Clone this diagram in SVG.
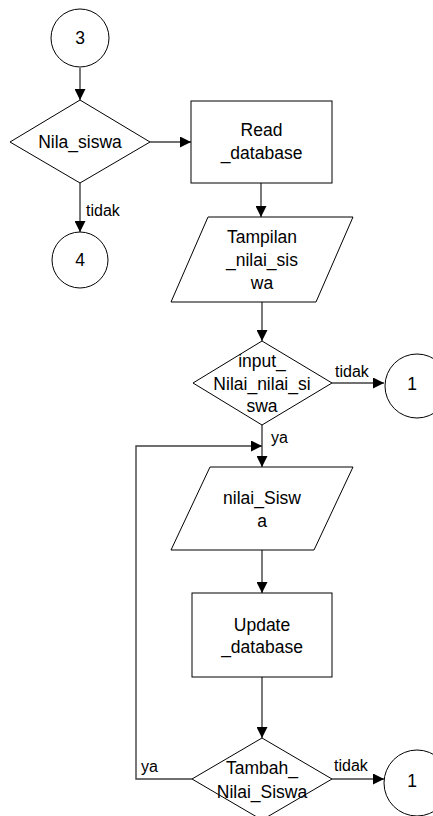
<svg xmlns="http://www.w3.org/2000/svg" width="433" height="816" viewBox="0 0 433 816">
  <defs>
    <marker id="arrow" viewBox="0 0 10 10" refX="10" refY="5" markerWidth="11" markerHeight="11" markerUnits="userSpaceOnUse" orient="auto">
      <path d="M0,0 L10,5 L0,10 z" fill="#000"/>
    </marker>
  </defs>
  <style>
    .shape { fill: #fff; stroke: #000; stroke-width: 1; }
    .link { fill: none; stroke: #404040; stroke-width: 1.4; }
    .arr { marker-end: url(#arrow); }
    text { font-family: "Liberation Sans", Arial, sans-serif; fill: #000; }
    .t { font-size: 17.5px; text-anchor: middle; dominant-baseline: central; }
    .lbl { font-size: 16px; dominant-baseline: central; }
  </style>
  <rect width="433" height="816" fill="#fff"/>

  <!-- connectors -->
  <g id="connectors">
    <line class="link arr" x1="80" y1="68" x2="80" y2="100"/>
    <line class="link arr" x1="150" y1="142" x2="191" y2="142"/>
    <line class="link arr" x1="80" y1="183" x2="80" y2="232"/>
    <line class="link arr" x1="261" y1="183" x2="261" y2="217"/>
    <line class="link arr" x1="262" y1="302" x2="262" y2="341"/>
    <line class="link arr" x1="332" y1="383" x2="384" y2="383"/>
    <line class="link arr" x1="262" y1="425" x2="262" y2="467"/>
    <polyline class="link arr" points="192,779 136,779 136,446 262,446"/>
    <line class="link arr" x1="262" y1="550" x2="262" y2="593"/>
    <line class="link arr" x1="262" y1="677" x2="262" y2="738"/>
    <line class="link arr" x1="332" y1="779" x2="384" y2="779"/>
    <text class="lbl" x="86" y="210">tidak</text>
    <text class="lbl" x="335" y="371">tidak</text>
    <text class="lbl" x="271" y="437">ya</text>
    <text class="lbl" x="141" y="766">ya</text>
    <text class="lbl" x="334" y="765">tidak</text>
  </g>

  <g id="start3">
    <circle class="shape" cx="80" cy="38" r="29"/>
    <text class="t" x="80" y="38">3</text>
  </g>

  <g id="nila-siswa">
    <polygon class="shape" points="10,142 80,100 150,142 80,183"/>
    <text class="t" x="80" y="142">Nila_siswa</text>
  </g>

  <g id="end4">
    <circle class="shape" cx="80" cy="260" r="28"/>
    <text class="t" x="80" y="260">4</text>
  </g>

  <g id="read-database">
    <rect class="shape" x="191" y="101" width="141" height="82"/>
    <text class="t" x="261.5" y="130">Read</text>
    <text class="t" x="261.5" y="153">_database</text>
  </g>

  <g id="tampilan">
    <polygon class="shape" points="208,217 353,217 316,302 171,302"/>
    <text class="t" x="262" y="237">Tampilan</text>
    <text class="t" x="262" y="260">_nilai_sis</text>
    <text class="t" x="262" y="283">wa</text>
  </g>

  <g id="input-nilai">
    <polygon class="shape" points="193,383 262,341 332,383 262,425"/>
    <text class="t" x="262" y="361">input_</text>
    <text class="t" x="262" y="384">Nilai_nilai_si</text>
    <text class="t" x="262" y="406">swa</text>
  </g>

  <g id="conn1-a">
    <circle class="shape" cx="417" cy="386" r="32"/>
    <text class="t" x="412" y="384">1</text>
  </g>

  <g id="nilai-siswa">
    <polygon class="shape" points="210,467 353,467 314,550 171,550"/>
    <text class="t" x="262" y="498">nilai_Sisw</text>
    <text class="t" x="262" y="521">a</text>
  </g>

  <g id="update-database">
    <rect class="shape" x="192" y="593" width="140" height="84"/>
    <text class="t" x="262" y="625">Update</text>
    <text class="t" x="262" y="647">_database</text>
  </g>

  <g id="tambah-nilai">
    <polygon class="shape" points="192,779 262,738 332,779 262,820"/>
    <text class="t" x="262" y="768">Tambah_</text>
    <text class="t" x="262" y="792">Nilai_Siswa</text>
  </g>

  <g id="conn1-b">
    <circle class="shape" cx="417" cy="783" r="33"/>
    <text class="t" x="412" y="781">1</text>
  </g>
</svg>
